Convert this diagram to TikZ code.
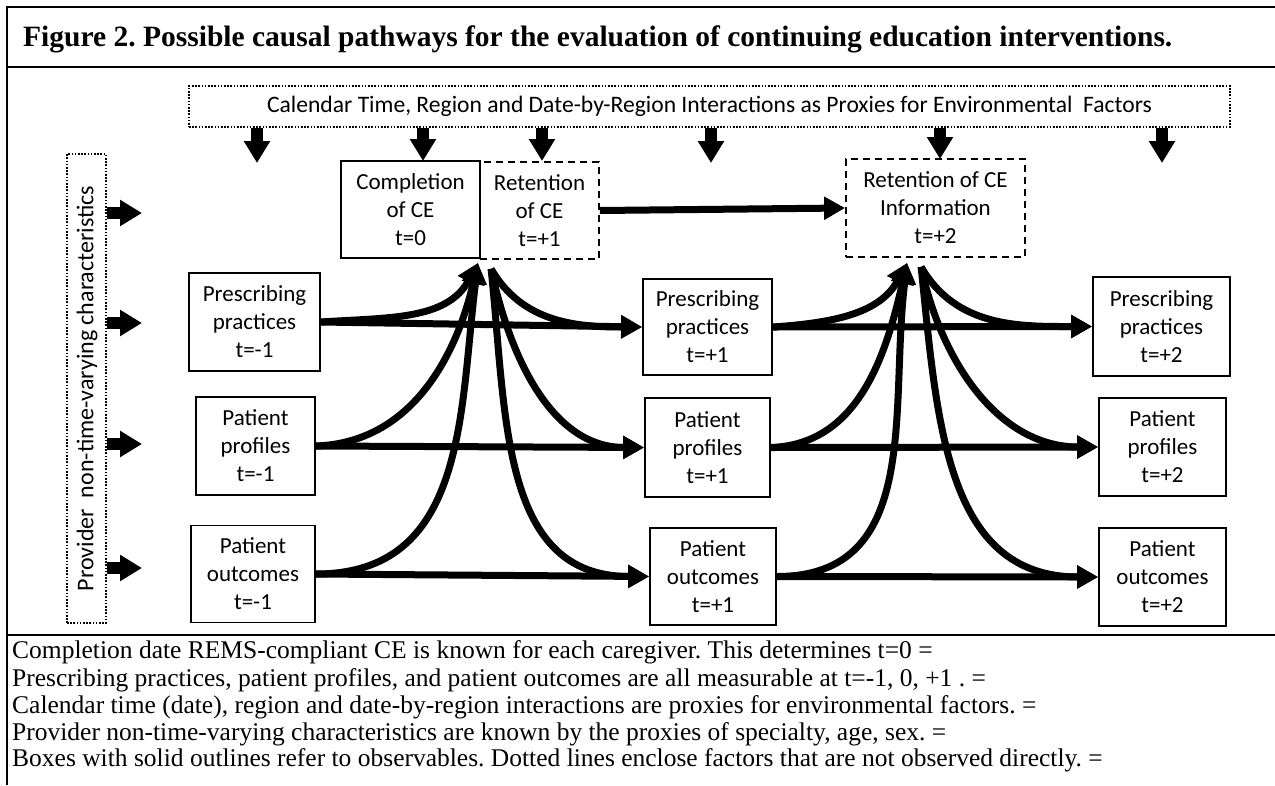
\documentclass[tikz,border=0pt]{standalone}
\usepackage{fontspec}
\setmainfont{Liberation Serif}
\newfontfamily\diagfont{Carlito}
\usetikzlibrary{arrows.meta}
\frenchspacing
\begin{document}
\begin{tikzpicture}[x=1pt,y=-1pt,
  frameline/.style={line width=2.2pt},
  boxtext/.style={font=\diagfont\fontsize{23}{28}\selectfont, align=center, inner sep=0pt},
  obsbox/.style={boxtext, draw, line width=1.8pt},
  latentbox/.style={obsbox, dash pattern=on 7pt off 5pt},
  proxybox/.style={draw, line width=1.6pt, dash pattern=on 1.6pt off 1.6pt, inner sep=0pt},
  blockarrow/.style={line width=12pt, -{Triangle[length=22pt,width=25pt]}},
  flow/.style={line width=7pt, -{Triangle[length=21pt,width=22pt]}},
  note/.style={anchor=base west, inner sep=0pt, font=\fontsize{25.5}{27}\selectfont}
]
\useasboundingbox (0,0) rectangle (1275,785);

% frame
\draw[frameline] (7,785) -- (7,7) -- (1275,7);
\draw[frameline, line width=2.8pt] (7,67) -- (1275,67);
\draw[frameline] (7,635) -- (1275,635);

% title
\node[anchor=base west, inner sep=0pt, font=\bfseries\fontsize{29.5}{32}\selectfont] (title) at (23,46)
  {Figure 2. Possible causal pathways for the evaluation of continuing education interventions.};

% proxies
\node[proxybox, boxtext, font=\diagfont\fontsize{23.6}{28}\selectfont, minimum width=1041pt, minimum height=41pt] (cal) at (709.5,106.5)
  {Calendar Time, Region and Date-by-Region Interactions as Proxies for Environmental\ \ Factors};
\node[proxybox, minimum width=39pt, minimum height=469pt] (prov) at (86.5,388.5) {};
\node[boxtext, font=\diagfont\fontsize{24}{28}\selectfont, rotate=90] (provtext) at (87,388.5) {Provider\ \ non-time-varying characteristics};

% CE boxes
\node[obsbox, minimum width=139pt, minimum height=97pt] (comp) at (410.5,209.5) {Completion\\of CE\\t=0};
\node[latentbox, minimum width=119pt, minimum height=97pt] (ret1) at (539.5,210.5) {Retention\\of CE\\t=+1};
\node[latentbox, minimum width=179pt, minimum height=98pt] (ret2) at (935.5,208) {Retention of CE\\Information\\t=+2};

% t=-1
\node[obsbox, minimum width=131pt, minimum height=98pt] (p0) at (254.5,322) {Prescribing\\practices\\t=-1};
\node[obsbox, minimum width=119pt, minimum height=98pt] (f0) at (255.5,446) {Patient\\profiles\\t=-1};
\node[obsbox, minimum width=124pt, minimum height=97pt] (o0) at (253,574) {Patient\\outcomes\\t=-1};
% t=+1
\node[obsbox, minimum width=129pt, minimum height=96pt] (p1) at (707.5,327) {Prescribing\\practices\\t=+1};
\node[obsbox, minimum width=125pt, minimum height=99pt] (f1) at (707.5,447.5) {Patient\\profiles\\t=+1};
\node[obsbox, minimum width=126pt, minimum height=97pt] (o1) at (713,576.5) {Patient\\outcomes\\t=+1};
% t=+2
\node[obsbox, minimum width=137pt, minimum height=99pt] (p2) at (1161.5,326.5) {Prescribing\\practices\\t=+2};
\node[obsbox, minimum width=127pt, minimum height=98pt] (f2) at (1162.5,447) {Patient\\profiles\\t=+2};
\node[obsbox, minimum width=127pt, minimum height=98pt] (o2) at (1162.5,577) {Patient\\outcomes\\t=+2};

% environmental arrows
\coordinate (d1) at (257,163);
\coordinate (d2) at (423,161);
\coordinate (d3) at (542,161);
\coordinate (d4) at (711,163);
\coordinate (d5) at (940,159);
\coordinate (d6) at (1162,163);
\foreach \d in {d1,d2,d3,d4,d5,d6} \draw[blockarrow] (cal.south -| \d) -- (\d);

% provider arrows
\coordinate (l1) at (142,213);
\coordinate (l2) at (142,323);
\coordinate (l3) at (142,444);
\coordinate (l4) at (142,568);
\foreach \l in {l1,l2,l3,l4} \draw[blockarrow] (prov.east |- \l) -- (\l);

% retention
\draw[flow] (ret1.east) -- (ret2.west);

% horizontal
\draw[flow] (p0.east) -- (p1.west);
\draw[flow] (f0.east) -- (f1.west);
\draw[flow] (o0.east) -- (o1.west);
\draw[flow] (p1.east) -- (p2.west);
\draw[flow] (f1.east) -- (f2.west);
\draw[flow] (o1.east) -- (o2.west);

% into completion
\draw[flow] (p0.east) to[out=4,in=-118] ([xshift=-3pt,yshift=-4pt]comp.south east);
\draw[flow] (f0.east) to[out=2,in=-103] ([xshift=-3pt,yshift=-4pt]comp.south east);
\draw[flow] (o0.east) to[out=0,in=-97,looseness=1.1] ([xshift=-3pt,yshift=-4pt]comp.south east);
% out of retention t=+1
\draw[flow] ([xshift=12pt,yshift=-9pt]ret1.south west) to[out=-60,in=180] (p1.west);
\draw[flow] ([xshift=12pt,yshift=-9pt]ret1.south west) to[out=-78,in=180] (f1.west);
\draw[flow] ([xshift=12pt,yshift=-9pt]ret1.south west) to[out=-84,in=180,looseness=1.1] (o1.west);

% into retention t=+2
\draw[flow] (p1.east) to[out=4,in=-118] ([xshift=62pt,yshift=-5pt]ret2.south west);
\draw[flow] (f1.east) to[out=2,in=-103] ([xshift=62pt,yshift=-5pt]ret2.south west);
\draw[flow] (o1.east) to[out=0,in=-97,looseness=1.1] ([xshift=62pt,yshift=-5pt]ret2.south west);
% out of retention t=+2
\draw[flow] ([xshift=76pt,yshift=-9pt]ret2.south west) to[out=-60,in=180] (p2.west);
\draw[flow] ([xshift=76pt,yshift=-9pt]ret2.south west) to[out=-78,in=180] (f2.west);
\draw[flow] ([xshift=76pt,yshift=-9pt]ret2.south west) to[out=-84,in=180,looseness=1.1] (o2.west);

% notes
\node[note] (n1) at (12,658) {Completion date REMS-compliant CE is known for each caregiver. This determines t=0 =};
\node[note] (n2) at (12,686) {Prescribing practices, patient profiles, and patient outcomes are all measurable at t=-1, 0, +1 . =};
\node[note] (n3) at (12,713) {Calendar time (date), region and date-by-region interactions are proxies for environmental factors. =};
\node[note] (n4) at (12,740) {Provider non-time-varying characteristics are known by the proxies of specialty, age, sex. =};
\node[note] (n5) at (12,766) {Boxes with solid outlines refer to observables. Dotted lines enclose factors that are not observed directly. =};
\end{tikzpicture}
\end{document}
